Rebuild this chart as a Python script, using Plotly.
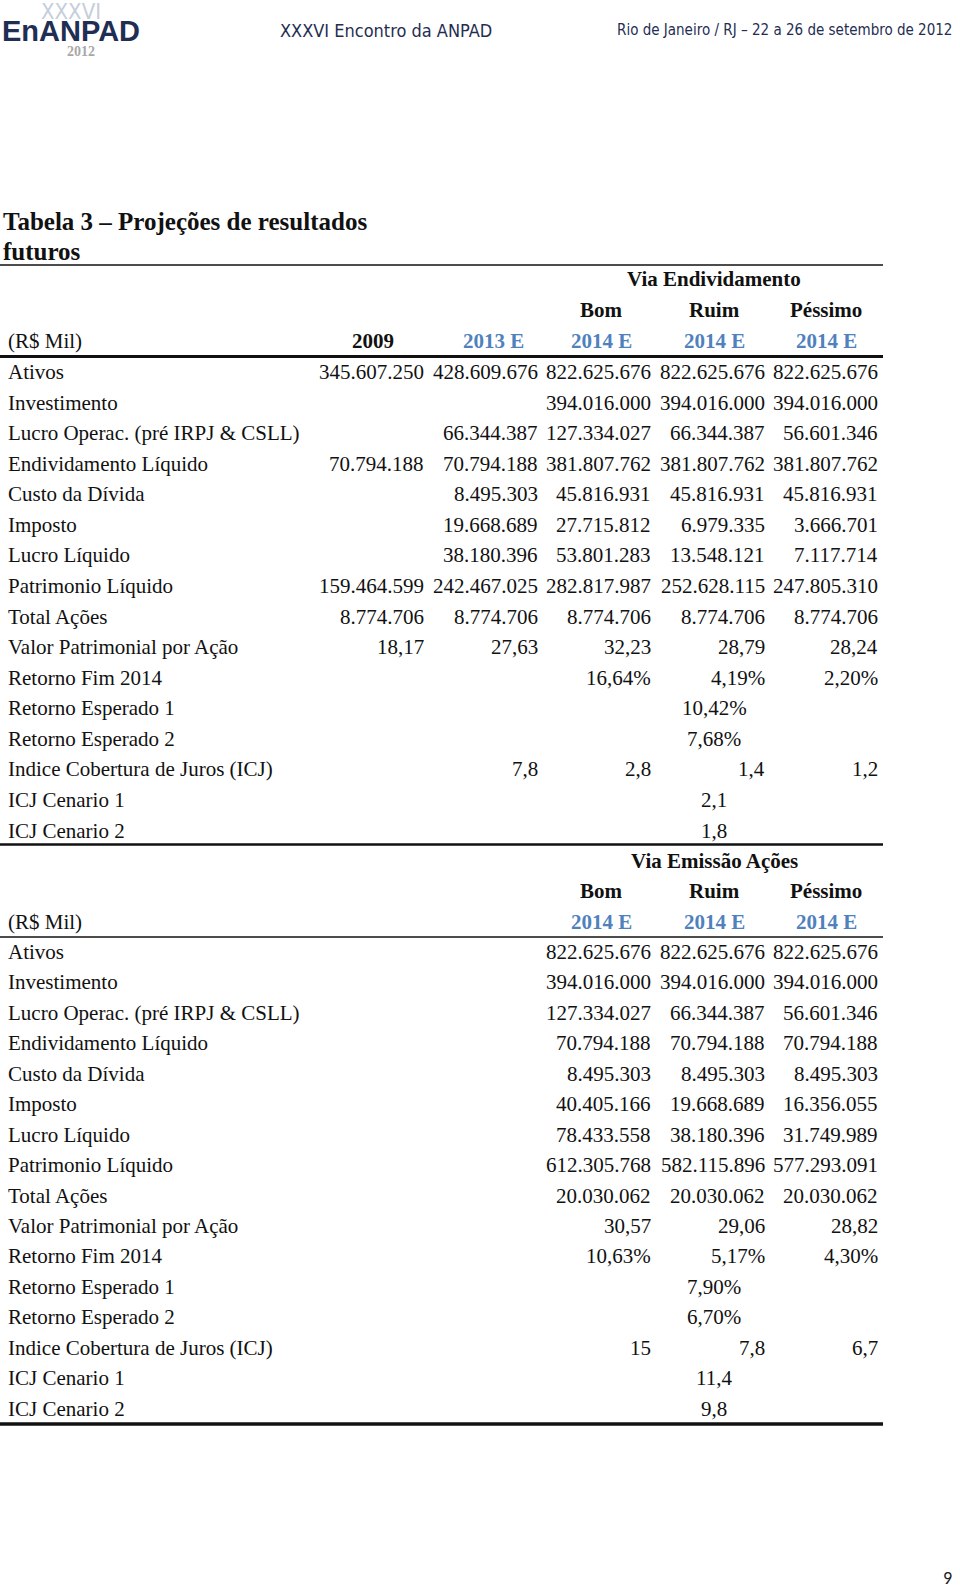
import plotly.graph_objects as go

# ---------------- data ----------------
year_headers_1 = ["2009", "2013 E", "2014 E", "2014 E", "2014 E"]
scenarios = ["Bom", "Ruim", "Péssimo"]
year_headers_2 = ["2014 E", "2014 E", "2014 E"]

row_labels = [
    "Ativos", "Investimento", "Lucro Operac. (pré IRPJ & CSLL)", "Endividamento Líquido",
    "Custo da Dívida", "Imposto", "Lucro Líquido", "Patrimonio Líquido", "Total Ações",
    "Valor Patrimonial por Ação", "Retorno Fim 2014", "Retorno Esperado 1",
    "Retorno Esperado 2", "Indice Cobertura de Juros (ICJ)", "ICJ Cenario 1", "ICJ Cenario 2",
]

# Section 1: Via Endividamento (2009, 2013 E, Bom, Ruim, Péssimo); merged cells listed separately
col_2009 = ["345.607.250", "", "", "70.794.188", "", "", "", "159.464.599", "8.774.706", "18,17",
            "", None, None, "", None, None]
col_2013 = ["428.609.676", "", "66.344.387", "70.794.188", "8.495.303", "19.668.689", "38.180.396",
            "242.467.025", "8.774.706", "27,63", "", None, None, "7,8", None, None]
endiv_bom = ["822.625.676", "394.016.000", "127.334.027", "381.807.762", "45.816.931", "27.715.812",
             "53.801.283", "282.817.987", "8.774.706", "32,23", "16,64%", None, None, "2,8", None, None]
endiv_ruim = ["822.625.676", "394.016.000", "66.344.387", "381.807.762", "45.816.931", "6.979.335",
              "13.548.121", "252.628.115", "8.774.706", "28,79", "4,19%", None, None, "1,4", None, None]
endiv_pess = ["822.625.676", "394.016.000", "56.601.346", "381.807.762", "45.816.931", "3.666.701",
              "7.117.714", "247.805.310", "8.774.706", "28,24", "2,20%", None, None, "1,2", None, None]
endiv_merged = [None] * 11 + ["10,42%", "7,68%", None, "2,1", "1,8"]

# Section 2: Via Emissão Ações (Bom, Ruim, Péssimo)
acoes_bom = ["822.625.676", "394.016.000", "127.334.027", "70.794.188", "8.495.303", "40.405.166",
             "78.433.558", "612.305.768", "20.030.062", "30,57", "10,63%", None, None, "15", None, None]
acoes_ruim = ["822.625.676", "394.016.000", "66.344.387", "70.794.188", "8.495.303", "19.668.689",
              "38.180.396", "582.115.896", "20.030.062", "29,06", "5,17%", None, None, "7,8", None, None]
acoes_pess = ["822.625.676", "394.016.000", "56.601.346", "70.794.188", "8.495.303", "16.356.055",
              "31.749.989", "577.293.091", "20.030.062", "28,82", "4,30%", None, None, "6,7", None, None]
acoes_merged = [None] * 11 + ["7,90%", "6,70%", None, "11,4", "9,8"]

# ---------------- layout constants ----------------
W, H = 960, 1588
SERIF = "Liberation Serif, Times New Roman, serif"
COND = "DejaVu Sans Condensed, Liberation Sans Narrow, Liberation Sans, sans-serif"
BLUE = "#4F81BD"
NAVY = "#1F2E52"
FS = 21

col_right_1 = [425, 539, 652, 766, 879]
col_center_1 = [373, 493, 601, 714, 826]
col_right_2 = [652, 766, 879]
col_center_2 = [601, 714, 826]
merged_center = 714

sec1_first_row, sec1_pitch = 372, 30.57
sec2_first_row, sec2_pitch = 952, 30.44

fig = go.Figure()
fig.add_trace(go.Scatter(x=[0, W], y=[0, H], mode="markers", marker=dict(opacity=0),
                         hoverinfo="skip", showlegend=False))

ann = []


def txt(x, y, s, anchor="left", size=FS, color="#111111", family=SERIF, bold=False):
    if bold:
        s = "<b>" + s + "</b>"
    ann.append(dict(x=x, y=y, xref="x", yref="y", text=s, showarrow=False,
                    xanchor=anchor, yanchor="middle", borderpad=0,
                    font=dict(size=size, color=color, family=family)))


# ---------------- page header ----------------
txt(71, 11, "XXXVI", anchor="center", size=22, color="#C5CEDC", family=COND)
txt(0.5, 31, "EnANPAD", anchor="left", size=29, color=NAVY, family="Liberation Sans, Arial, sans-serif", bold=True)
txt(81, 51, "2012", anchor="center", size=14, color="#A8A8A8", family=SERIF, bold=True)
txt(386, 30, "XXXVI Encontro da ANPAD", anchor="center", size=18, color=NAVY, family=COND)
txt(953, 30, "Rio de Janeiro / RJ – 22 a 26 de setembro de 2012", anchor="right", size=15, color=NAVY,
    family=COND)

# ---------------- title ----------------
txt(2, 221, "Tabela 3 – Projeções de resultados", size=25, color="#111111", bold=True)
txt(2, 251, "futuros", size=25, color="#111111", bold=True)

# ---------------- section 1 header ----------------
txt(col_center_1[3], 278.5, "Via Endividamento", anchor="center", bold=True)
for i, s in enumerate(scenarios):
    txt(col_center_1[2 + i], 310, s, anchor="center", bold=True)
txt(7, 341, "(R$ Mil)")
for i, s in enumerate(year_headers_1):
    txt(col_center_1[i], 341, s, anchor="center", bold=True, color="#111111" if i == 0 else BLUE)

# ---------------- section 1 body ----------------
sec1_cols = [col_2009, col_2013, endiv_bom, endiv_ruim, endiv_pess]
for r, lab in enumerate(row_labels):
    y = sec1_first_row + r * sec1_pitch
    txt(7, y, lab)
    for c, col in enumerate(sec1_cols):
        if col[r]:
            txt(col_right_1[c], y, col[r], anchor="right")
    if endiv_merged[r]:
        txt(merged_center, y, endiv_merged[r], anchor="center")

# ---------------- section 2 header ----------------
txt(col_center_2[1], 861, "Via Emissão Ações", anchor="center", bold=True)
for i, s in enumerate(scenarios):
    txt(col_center_2[i], 891, s, anchor="center", bold=True)
txt(7, 921.5, "(R$ Mil)")
for i, s in enumerate(year_headers_2):
    txt(col_center_2[i], 921.5, s, anchor="center", bold=True, color=BLUE)

# ---------------- section 2 body ----------------
sec2_cols = [acoes_bom, acoes_ruim, acoes_pess]
for r, lab in enumerate(row_labels):
    y = sec2_first_row + r * sec2_pitch
    txt(7, y, lab)
    for c, col in enumerate(sec2_cols):
        if col[r]:
            txt(col_right_2[c], y, col[r], anchor="right")
    if acoes_merged[r]:
        txt(merged_center, y, acoes_merged[r], anchor="center")

# page number
txt(947, 1578, "9", anchor="center", size=18, color="#222222", family="Carlito, Liberation Sans, sans-serif")

# ---------------- rules ----------------
shapes = []


def hline(y, w):
    shapes.append(dict(type="line", xref="x", yref="y", x0=0, x1=883, y0=y, y1=y,
                       line=dict(color="#111111", width=w)))


hline(265, 1.5)
hline(356.5, 3)
hline(844.5, 2.5)
hline(937, 1.5)
hline(1424, 3.5)

fig.update_layout(
    width=W, height=H,
    margin=dict(l=0, r=0, t=0, b=0),
    paper_bgcolor="white", plot_bgcolor="white",
    xaxis=dict(range=[0, W], visible=False, fixedrange=True),
    yaxis=dict(range=[H, 0], visible=False, fixedrange=True),
    annotations=ann, shapes=shapes, showlegend=False,
)

fig.write_html("out.html", config={"displayModeBar": False},
               post_script="document.body.style.margin='0px';document.body.style.overflow='hidden';")
